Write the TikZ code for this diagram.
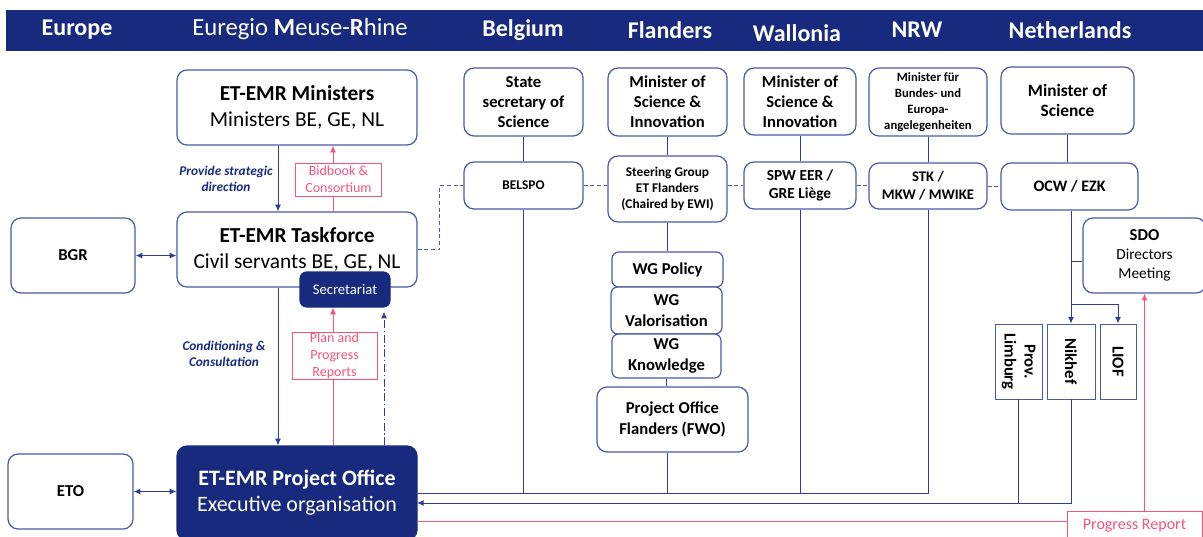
\documentclass[tikz,border=0pt]{standalone}
\usepackage{fontspec}
\setmainfont{Carlito}
\usetikzlibrary{arrows.meta}

\definecolor{navy}{HTML}{172A7E}
\definecolor{boxblue}{HTML}{4A5AA6}
\definecolor{linkblue}{HTML}{2F3F96}
\definecolor{pinkred}{HTML}{F4557D}

\begin{document}
\begin{tikzpicture}[x=0.75pt,y=-0.75pt,>={Latex[length=5pt,width=4.5pt]},
	sz/.style 2 args={minimum width=#1*0.75pt, minimum height=#2*0.75pt},
	head/.style={text=white, inner sep=0pt, font=\fontsize{18}{21}\selectfont\bfseries},
	box/.style={draw=boxblue, line width=0.9pt, rounded corners=7.5pt, fill=white, align=center, inner sep=0pt, font=\fontsize{12.5}{15}\selectfont\bfseries},
	bigbox/.style={box, font=\fontsize{16}{19.5}\selectfont},
	sqbox/.style={box, rounded corners=0pt, line width=0.6pt},
	navybox/.style={box, draw=navy, fill=navy, text=white},
	pinkbox/.style={draw=pinkred, line width=0.75pt, fill=white, text=pinkred, align=center, inner sep=0pt, font=\fontsize{10.5}{12.6}\selectfont},
	note/.style={text=navy, align=center, inner sep=0pt, font=\fontsize{10}{12}\selectfont\bfseries\itshape},
	link/.style={draw=linkblue, line width=0.75pt},
	pinkline/.style={draw=pinkred, line width=0.75pt},
	fedline/.style={draw=boxblue, line width=0.75pt, dash pattern=on 3pt off 2pt}]
	\useasboundingbox (0,0) rectangle (1203,536);
	% Header bar
	\fill[navy] (6,10) rectangle (1203,51);
	\node[head] (hEurope) at (77,30) {Europe};
	\node[head, font=\fontsize{18.5}{22}\selectfont] (hEmr) at (300,29) {Euregio \textbf{M}euse-\textbf{R}hine};
	\node[head] (hBel) at (523,30) {Belgium};
	\node[head] (hFla) at (670,30) {Flanders};
	\node[head] (hWal) at (797,33) {Wallonia};
	\node[head] (hNrw) at (917,30) {NRW};
	\node[head] (hNl) at (1070,30) {Netherlands};
	% Column guides
	\coordinate (col1) at (278,0);
	\coordinate (col2) at (333,0);
	\coordinate (col3) at (384,0);
	% Euregio Meuse-Rhine column
	\node[bigbox, sz={240}{75}] (min) at (297,107.5) {\textbf{ET-EMR Ministers}\\Ministers BE, GE, NL};
	\node[bigbox, sz={240}{75}] (tf) at (297,249.5) {\textbf{ET-EMR Taskforce}\\Civil servants BE, GE, NL};
	\node[navybox, sz={90}{35}, rounded corners=5pt, font=\fontsize{11}{13}\selectfont] (sec) at (345,289.5) {Secretariat};
	\node[navybox, bigbox, draw=navy, fill=navy, text=white, sz={240}{94}, font=\fontsize{16.5}{19.5}\selectfont] (po) at (297,493) {\textbf{ET-EMR Project Office}\\Executive organisation};
	\node[pinkbox, sz={86}{33}] (bid) at (338.5,179.5) {Bidbook \&\\Consortium};
	\node[pinkbox, sz={85}{47}] (plan) at (334.5,355.5) {Plan and\\Progress\\Reports};
	\node[note] (provide) at (226,179) {Provide strategic\\direction};
	\node[note] (cond) at (224,354) {Conditioning \&\\Consultation};
	% Europe column
	\node[box, sz={124}{75}] (bgr) at (73,255.5) {BGR};
	\node[box, sz={125}{75}] (eto) at (70.5,491.5) {ETO};
	% Belgium
	\node[box, sz={119}{68}] (bss) at (523.5,102) {State\\secretary of\\Science};
	\node[box, sz={119}{47}, font=\fontsize{10}{12}\selectfont\bfseries] (belspo) at (523.5,185.5) {BELSPO};
	% Flanders
	\node[box, sz={119}{68}] (flmin) at (667.5,102) {Minister of\\Science \&\\Innovation};
	\node[box, sz={119}{66}, font=\fontsize{10}{12}\selectfont\bfseries] (flsg) at (667.5,189) {Steering Group\\ET Flanders\\(Chaired by EWI)};
	\node[box, sz={111}{35}, rounded corners=5pt] (wgpol) at (667.5,269.5) {WG Policy};
	\node[box, sz={111}{47}, rounded corners=5pt, font=\fontsize{12.5}{15.5}\selectfont\bfseries] (wgval) at (666.5,310.5) {WG\\Valorisation};
	\node[box, sz={109}{44}, rounded corners=5pt, font=\fontsize{12.5}{15.5}\selectfont\bfseries] (wgkno) at (666.5,356) {WG\\Knowledge};
	\node[box, sz={151}{65}, font=\fontsize{12.5}{15.5}\selectfont\bfseries] (pofl) at (672.5,419.5) {Project Office\\Flanders (FWO)};
	% Wallonia
	\node[box, sz={112}{67}] (wamin) at (800,101.5) {Minister of\\Science \&\\Innovation};
	\node[box, sz={112}{47}, font=\fontsize{11.5}{13.5}\selectfont\bfseries] (waspw) at (800,185.5) {SPW EER /\\GRE Liège};
	% NRW
	\node[box, sz={118}{68}, font=\fontsize{9.5}{12}\selectfont\bfseries] (nrwmin) at (928,102) {Minister für\\Bundes- und\\Europa-\\angelegenheiten};
	\node[box, sz={118}{46}, font=\fontsize{11}{13.5}\selectfont\bfseries] (nrwstk) at (928,186) {STK /\\MKW / MWIKE};
	% Netherlands
	\node[box, sz={133}{67}, font=\fontsize{13}{15.5}\selectfont\bfseries] (nlmin) at (1067.5,100.5) {Minister of\\Science};
	\node[box, sz={137}{47}, font=\fontsize{12}{14}\selectfont\bfseries] (nlocw) at (1069.5,186.5) {OCW / EZK};
	\node[box, sz={123}{75}, font=\fontsize{11.5}{14.5}\selectfont] (sdo) at (1144.5,255.5) {\textbf{\fontsize{12.5}{14.5}\selectfont SDO}\\Directors\\Meeting};
	\node[sqbox, sz={47}{75}] (limb) at (1018.5,361.5) {\rotatebox{-90}{\begin{tabular}{@{}c@{}}Prov.\\Limburg\end{tabular}}};
	\node[sqbox, sz={48}{75}] (nikhef) at (1071,361.5) {\rotatebox{-90}{Nikhef}};
	\node[sqbox, sz={36}{75}] (liof) at (1118,361.5) {\rotatebox{-90}{LIOF}};
	\node[pinkbox, sz={135}{30}, font=\fontsize{12}{14}\selectfont] (prog) at (1134.5,526) {Progress Report};
	% Euregio links
	\draw[link,->] (min.south -| col1) -- (tf.north -| col1);
	\draw[link,->] (tf.south -| col1) -- (po.north -| col1);
	\draw[pinkline] (tf.north -| col2) -- (bid.south -| col2);
	\draw[pinkline,->] (bid.north -| col2) -- (min.south -| col2);
	\draw[pinkline] (po.north -| col2) -- (plan.south -| col2);
	\draw[pinkline,->] (plan.north -| col2) -- (sec.south -| col2);
	\draw[link,->,dash pattern=on 6pt off 2pt on 1pt off 2pt] (po.north -| col3) -- ([yshift=-3pt]sec.south -| col3);
	\draw[link,<->] (bgr.east) -- (bgr.east -| tf.west);
	\draw[link,<->] (eto.east) -- (eto.east -| po.west);
	% Federal / regional links
	\draw[fedline] (tf.east) -- ++(22,0) |- (belspo.west);
	\draw[fedline] (belspo.east) -- (belspo.east -| flsg.west);
	\draw[fedline] (flsg.east |- waspw.west) -- (waspw.west);
	\draw[fedline] (waspw.east) -- (waspw.east -| nrwstk.west);
	\draw[fedline] (nrwstk.east) -- (nrwstk.east -| nlocw.west);
	\draw[link] (bss) -- (belspo);
	\draw[link] (flmin) -- (flsg);
	\draw[link] (flsg.south) -- (flsg.south |- wgpol.north);
	\draw[link] (wgkno.south) -- (wgkno.south |- pofl.north);
	\draw[link] (wamin) -- (waspw);
	\draw[link] (nrwmin) -- (nrwstk);
	\draw[link] (nlmin.south) -- (nlmin.south |- nlocw.north);
	% Reporting bus to the project office
	\draw[link] (nrwstk.south) |- (po.east);
	\draw[link] (belspo.south) -- (belspo.south |- po.east);
	\draw[link] (pofl.south -| flsg.south) -- (flsg.south |- po.east);
	\draw[link] (waspw.south) -- (waspw.south |- po.east);
	% Netherlands
	\coordinate (bus2) at (417,503);
	\coordinate (sdostub) at (1071,261);
	\coordinate (nlfork) at (1071,304);
	\draw[link,->] (nikhef.north |- nlocw.south) -- (nikhef.north);
	\draw[link] (sdostub) -- (sdostub -| sdo.west);
	\draw[link,->] (nlfork) -| (liof.north);
	\draw[link,->] (nikhef.south) |- (bus2);
	\draw[link] (limb.south) -- (limb.south |- bus2);
	% Progress report
	\coordinate (pinkstart) at (417,521);
	\draw[pinkline] (pinkstart) -- (pinkstart -| prog.west);
	\draw[pinkline,->] (prog.north -| sdo.south) -- (sdo.south);
\end{tikzpicture}
\end{document}
